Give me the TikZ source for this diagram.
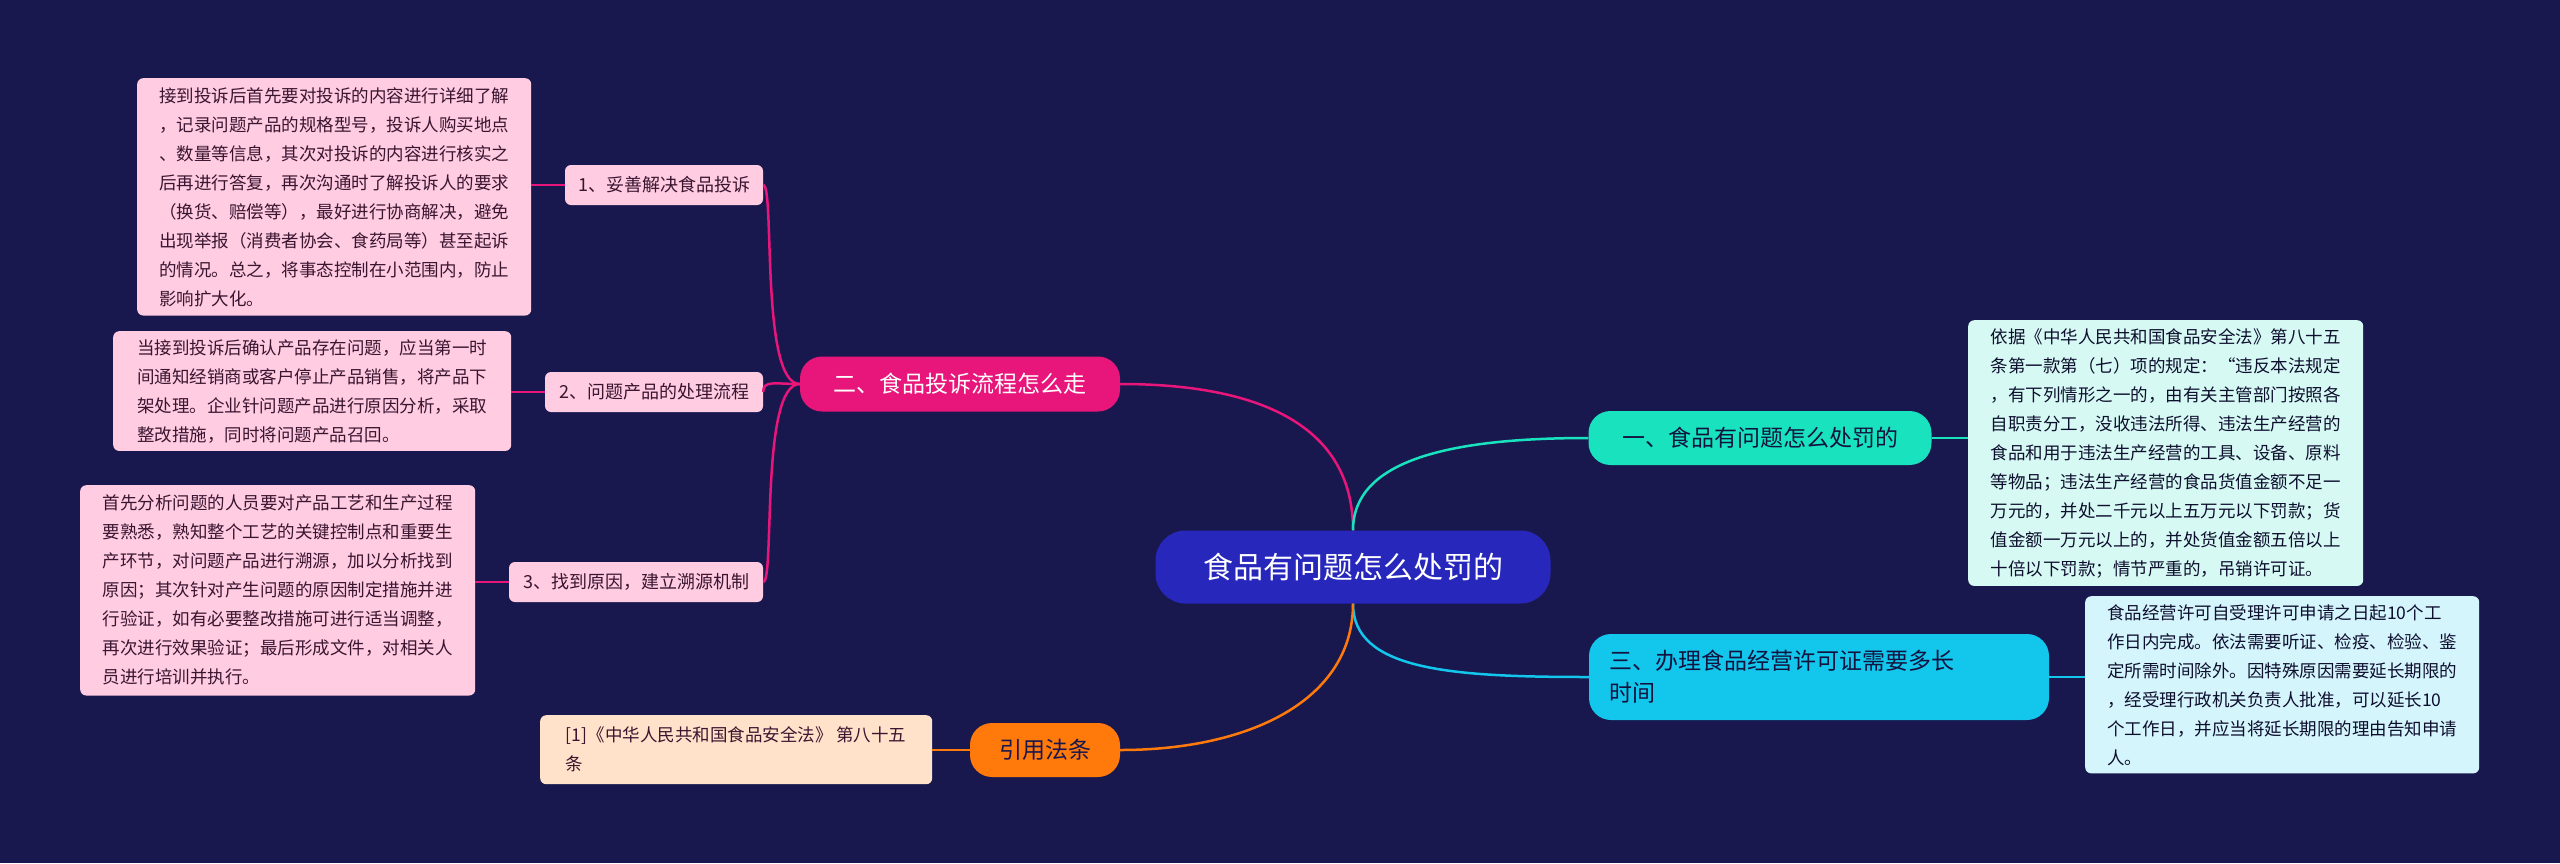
\documentclass[tikz,border=0pt]{standalone}
\usepackage{fontspec}
\setmainfont{Noto Sans CJK SC}
\begin{document}
\begin{tikzpicture}[x=1pt,y=-1pt,
  box/.style={rounded corners=6pt,inner sep=0pt,align=left},
  leafp/.style={box,fill=pinkbg,text=leaftext,font=\fontsize{17.5}{29}\selectfont,align=left,anchor=north west},
  subp/.style={box,fill=pinkbg,text=leaftext,font=\fontsize{18}{22}\selectfont,minimum height=40pt,anchor=center,inner xsep=8pt},
  br/.style={rounded corners=22pt,inner xsep=20pt,font=\fontsize{23}{32}\selectfont,align=left,minimum height=54pt}]
\definecolor{bg}{HTML}{18184F}
\definecolor{pinkbg}{HTML}{FFCCE2}
\definecolor{leaftext}{HTML}{3A1530}
\definecolor{mag}{HTML}{E8157A}
\definecolor{teal}{HTML}{19E3BE}
\definecolor{cyanb}{HTML}{12C6EC}
\definecolor{orng}{HTML}{FF7A0A}
\definecolor{centr}{HTML}{2727BC}
\fill[bg] (0,0) rectangle (2560,863);
\useasboundingbox (0,0) rectangle (2560,863);
% center
\node[rounded corners=30pt,fill=centr,text=white,font=\fontsize{30}{36}\selectfont,minimum width=395pt,minimum height=73pt] (c) at (1353,567) {食品有问题怎么处罚的};
% branches
\node[br,fill=mag,text=white,minimum width=320pt,minimum height=55pt,align=center] (b2) at (960,384) {二、食品投诉流程怎么走};
\node[br,fill=teal,text=bg!80!black,minimum width=343pt,align=center] (b1) at (1760,438) {一、食品有问题怎么处罚的};
\node[br,fill=cyanb,text=bg!80!black,minimum width=460pt,minimum height=86pt,text width=420pt] (b3) at (1819,677) {三、办理食品经营许可证需要多长\\时间};
\node[br,fill=orng,text=bg,minimum width=150pt,align=center] (b4) at (1045,750) {引用法条};
% subs
\node[subp,minimum width=198pt] (s1) at (664,185) {1、妥善解决食品投诉};
\node[subp,minimum width=218pt] (s2) at (654,392) {2、问题产品的处理流程};
\node[subp,minimum width=254pt] (s3) at (636,582) {3、找到原因，建立溯源机制};
% leaves
\node[leafp,minimum width=394pt,minimum height=213pt,inner xsep=10pt,inner ysep=9pt] (l1) at (137,78) {接到投诉后首先要对投诉的内容进行详细了解\\，记录问题产品的规格型号，投诉人购买地点\\、数量等信息，其次对投诉的内容进行核实之\\后再进行答复，再次沟通时了解投诉人的要求\\（换货、赔偿等），最好进行协商解决，避免\\出现举报（消费者协会、食药局等）甚至起诉\\的情况。总之，将事态控制在小范围内，防止\\影响扩大化。};
\node[leafp,minimum width=398pt,minimum height=115pt,inner xsep=10pt,inner ysep=8pt] (l2) at (113,331) {当接到投诉后确认产品存在问题，应当第一时\\间通知经销商或客户停止产品销售，将产品下\\架处理。企业针问题产品进行原因分析，采取\\整改措施，同时将问题产品召回。};
\node[leafp,minimum width=395pt,minimum height=189pt,inner xsep=10pt,inner ysep=10pt] (l3) at (80,485) {首先分析问题的人员要对产品工艺和生产过程\\要熟悉，熟知整个工艺的关键控制点和重要生\\产环节，对问题产品进行溯源，加以分析找到\\原因；其次针对产生问题的原因制定措施并进\\行验证，如有必要整改措施可进行适当调整，\\再次进行效果验证；最后形成文件，对相关人\\员进行培训并执行。};
\node[leafp,fill=teal!18!white,text=bg!60!black,minimum width=395pt,minimum height=235pt,inner xsep=10pt,inner ysep=8pt] (r1) at (1968,320) {依据《中华人民共和国食品安全法》第八十五\\条第一款第（七）项的规定：“违反本法规定\\，有下列情形之一的，由有关主管部门按照各\\自职责分工，没收违法所得、违法生产经营的\\食品和用于违法生产经营的工具、设备、原料\\等物品；违法生产经营的食品货值金额不足一\\万元的，并处二千元以上五万元以下罚款；货\\值金额一万元以上的，并处货值金额五倍以上\\十倍以下罚款；情节严重的，吊销许可证。};
\node[leafp,fill=cyanb!18!white,text=bg!60!black,minimum width=394pt,minimum height=163pt,inner xsep=10pt,inner ysep=8pt] (r2) at (2085,596) {食品经营许可自受理许可申请之日起10个工\\作日内完成。依法需要听证、检疫、检验、鉴\\定所需时间除外。因特殊原因需要延长期限的\\，经受理行政机关负责人批准，可以延长10\\个工作日，并应当将延长期限的理由告知申请\\人。};
\node[leafp,fill=orng!22!white,text=leaftext,minimum width=392pt,minimum height=69pt,inner xsep=10pt,inner ysep=8pt] (cite) at (540,715) {[1]《中华人民共和国食品安全法》 第八十五\\条};
% connectors
\begin{scope}[line width=2.5pt]
\draw[mag] (c.north) .. controls (1353,420) and (1250,384) .. (b2.east);
\draw[teal] (c.north) .. controls (1353,460) and (1450,438) .. (b1.west);
\draw[cyanb] (c.south) .. controls (1353,670) and (1450,677) .. (b3.west);
\draw[orng] (c.south) .. controls (1353,700) and (1250,750) .. (b4.east);
\draw[mag] (b2.west) .. controls (775,384) and (763,380) .. (s2.east);
\draw[mag] (b2.west) .. controls (760,384) and (775,185) .. (s1.east);
\draw[mag] (b2.west) .. controls (760,384) and (775,582) .. (s3.east);
\draw[mag] (s1.west) -- (l1.east|-s1.west);
\draw[mag] (s2.west) -- (l2.east|-s2.west);
\draw[mag] (s3.west) -- (l3.east|-s3.west);
\draw[teal] (b1.east) -- (r1.west|-b1.east);
\draw[cyanb] (b3.east) -- (r2.west|-b3.east);
\draw[orng] (b4.west) -- (cite.east|-b4.west);
\end{scope}
\end{tikzpicture}
\end{document}
